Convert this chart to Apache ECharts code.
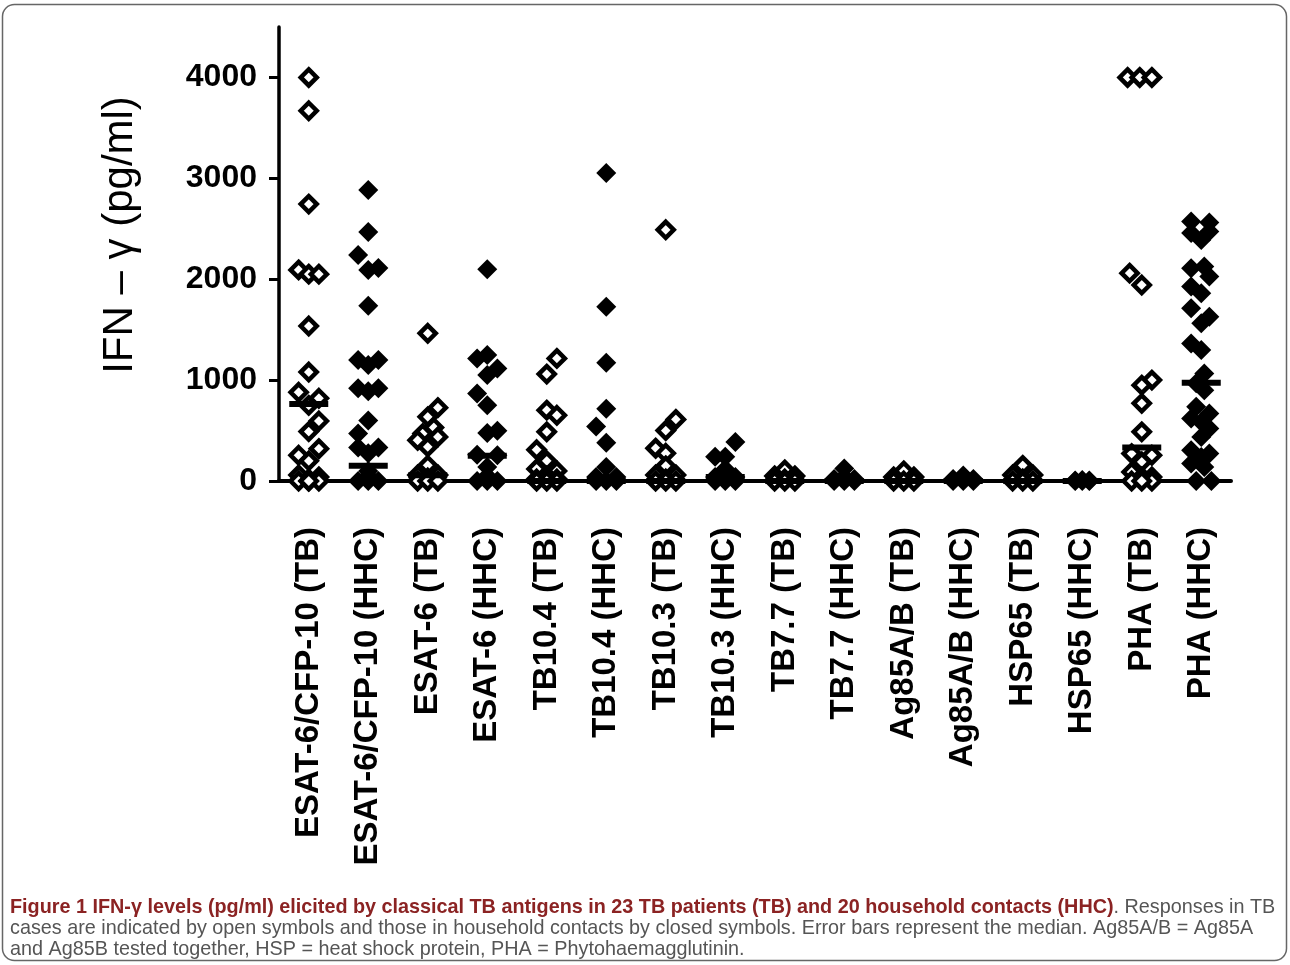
<!DOCTYPE html>
<html>
<head>
<meta charset="utf-8">
<title>IFN-gamma levels</title>
<script src="https://cdn.jsdelivr.net/npm/echarts@6/dist/echarts.min.js"></script>
<style>
  html, body { margin: 0; padding: 0; background: #fff; }
  #chart { width: 1290px; height: 965px; }
</style>
</head>
<body>
<div id="chart"></div>
<script>
//类别
var categories = ['ESAT-6/CFP-10 (TB)', 'ESAT-6/CFP-10 (HHC)', 'ESAT-6 (TB)', 'ESAT-6 (HHC)',
    'TB10.4 (TB)', 'TB10.4 (HHC)', 'TB10.3 (TB)', 'TB10.3 (HHC)', 'TB7.7 (TB)', 'TB7.7 (HHC)',
    'Ag85A/B (TB)', 'Ag85A/B (HHC)', 'HSP65 (TB)', 'HSP65 (HHC)', 'PHA (TB)', 'PHA (HHC)'];
var yTicks = [0, 1000, 2000, 3000, 4000];

//IFN-γ (pg/ml) 每组的数值
var esatCfpTB = [4000, 3670, 2745, 2092, 2050, 2050, 1536, 1080, 880, 820, 750, 595, 490, 320, 255, 200, 60, 40, 20, 0, 0, 0, 0];
var esatCfpHHC = [2885, 2467, 2241, 2110, 2092, 1738, 1200, 1200, 1150, 920, 920, 890, 600, 470, 332, 332, 275, 100, 50, 0, 0, 0];
var esatTB = [1464, 727, 636, 530, 470, 437, 404, 338, 156, 60, 60, 30, 0, 0, 0];
var esatHHC = [2099, 1248, 1215, 1116, 1050, 868, 752, 497, 477, 260, 255, 140, 50, 0, 0, 0];
var tb104TB = [1215, 1060, 702, 652, 487, 310, 200, 120, 100, 50, 20, 20, 0, 0, 0];
var tb104HHC = [3053, 1728, 1172, 715, 540, 380, 140, 40, 40, 0, 0, 0];
var tb103TB = [2490, 610, 500, 325, 275, 150, 60, 60, 20, 0, 0, 0];
var tb103HHC = [387, 240, 240, 120, 40, 40, 0, 0, 0];
var tb77TB = [110, 50, 50, 20, 0, 0, 0];
var tb77HHC = [125, 40, 20, 20, 0, 0, 0];
var ag85TB = [100, 40, 40, 0, 0, 0];
var ag85HHC = [55, 20, 20, 0, 0, 0];
var hspTB = [155, 60, 60, 20, 0, 0, 0];
var hspHHC = [10, 5, 5, 0, 0, 0];
var phaTB = [4000, 4000, 4000, 2060, 1943, 1000, 950, 770, 487, 272, 255, 189, 89, 40, 40, 0, 0, 0];
var phaHHC = [2572, 2562, 2473, 2457, 2390, 2125, 2109, 2026, 1927, 1861, 1712, 1629, 1563, 1364, 1298,
    1066, 970, 900, 735, 669, 620, 586, 520, 437, 305, 272, 238, 173, 139, 0, 0];
//中位数
var medians = [762, 150, 57, 250, 0, 0, 0, 40, 0, 0, 0, 0, 0, 0, 331, 973];

//重叠点的左右错位(单位: 一个点宽)
var jitter = [
    [0, 0, 0, -1, 0, 1, 0, 0, -1, 1, 0, 1, 0, 1, -1, 0, -1, 1, 0, -1, 0, 1, 0],
    [0, 0, -1, 1, 0, 0, -1, 1, 0, -1, 1, 0, 0, -1, -1, 1, 0, 0, 0, -1, 0, 1],
    [0, 1, 0, 0.6, -0.5, 1, -1, 0, 0, -1, 1, 0, -1, 0, 1],
    [0, 0, -1, 1, 0, -1, 0, 1, 0, -1, 1, 0, 0, -1, 1, 0],
    [1, 0, 0, 1, 0, -1, 0, -1, 1, 0, -1, 1, 0, -1, 1],
    [0, 0, 0, 0, -1, 0, 0, -1, 1, 0, -1, 1],
    [0, 1, 0, -1, 0, 0, -1, 1, 0, -1, 0, 1],
    [1, -1, 0, 0, -1, 1, 0, -1, 1],
    [0, -1, 1, 0, -1, 0, 1],
    [0, 0, -1, 1, 0, -1, 1],
    [0, -1, 1, 0, -1, 1],
    [0, -1, 1, 0, -1, 1],
    [0, -1, 1, 0, -1, 0, 1],
    [0, -0.7, 0.7, 0, -0.7, 0.7],
    [-1.4, -0.2, 1, -1.2, 0, 1, 0, 0, 0, -1, 1, 0, -1, 0, 1, -1, 1, 0],
    [-1, 0.8, 0.8, -1, 0, 0.3, -1, 0.8, -1, 0, -1, 0.8, 0, -1, 0, 0.3, -0.5, 0.3, -0.5, 0.8, -1, 0, 0.8, 0, -1, 0.8, 0, -1, 0.3, -0.5, 1]
];

var groups = [esatCfpTB, esatCfpHHC, esatTB, esatHHC, tb104TB, tb104HHC, tb103TB, tb103HHC,
    tb77TB, tb77HHC, ag85TB, ag85HHC, hspTB, hspHHC, phaTB, phaHHC];

var step = 0.17;
var openPts = [], closedPts = [], medPts = [];
for (var i = 0; i < groups.length; i++) {
    var g = groups[i];
    for (var k = 0; k < g.length; k++) {
        var p = [i + (jitter[i][k] || 0) * step, g[k]];
        if (i % 2 == 0) {
            openPts.push(p);
        } else {
            closedPts.push(p);
        }
    }
    medPts.push([i, medians[i]]);
}

var chart = echarts.init(document.getElementById('chart'), null, {renderer: 'canvas'});
var boldFont = '"Liberation Sans", Arial, sans-serif';
var capFont = '19.8px "Liberation Sans", Arial, sans-serif';
var option = {
    backgroundColor: '#fff',
    animation: false,
    grid: {left: 279, right: 59, top: 27, bottom: 484, containLabel: false, outerBoundsMode: 'none'},
    xAxis: [{
        type: 'category',
        data: categories,
        boundaryGap: true,
        axisLine: {lineStyle: {color: '#000', width: 4}},
        axisTick: {show: false},
        axisLabel: {
            interval: 0, rotate: 90, margin: 46, color: '#000',
            fontFamily: boldFont, fontWeight: 'bold', fontSize: 33
        },
        splitLine: {show: false}
    }, {
        type: 'value',
        min: -0.5,
        max: 15.5,
        show: false
    }],
    yAxis: {
        type: 'value',
        min: 0,
        max: 4500,
        axisLine: {show: true, onZero: false, lineStyle: {color: '#000', width: 3.5}},
        axisTick: {show: true, inside: false, length: 10, lineStyle: {color: '#000', width: 3}, customValues: yTicks},
        axisLabel: {
            customValues: yTicks, margin: 22, color: '#000',
            fontFamily: boldFont, fontWeight: 'bold', fontSize: 32,
            formatter: function (v) { return v > 4000 ? '' : String(v); }
        },
        splitLine: {show: false}
    },
    series: [{
        name: 'HHC',
        type: 'scatter',
        xAxisIndex: 1,
        clip: false,
        symbol: 'diamond',
        symbolSize: 20,
        itemStyle: {color: '#000', opacity: 1},
        data: closedPts
    }, {
        name: 'TB',
        type: 'scatter',
        xAxisIndex: 1,
        clip: false,
        symbol: 'diamond',
        symbolSize: 16,
        itemStyle: {color: '#fff', borderColor: '#000', borderWidth: 4.5, opacity: 1},
        data: openPts
    }, {
        name: 'median',
        type: 'scatter',
        xAxisIndex: 1,
        clip: false,
        symbol: 'rect',
        symbolSize: [39, 6],
        itemStyle: {color: '#000', opacity: 1},
        z: 5,
        data: medPts
    }],
    graphic: [{
        type: 'rect',
        shape: {x: 2.5, y: 4.5, width: 1284, height: 956, r: 12},
        style: {fill: 'none', stroke: '#666', lineWidth: 1.5},
        silent: true
    }, {
        type: 'text',
        x: 120,
        y: 235,
        rotation: Math.PI / 2,
        style: {
            text: 'IFN – γ (pg/ml)',
            font: '42px "Liberation Sans", Arial, sans-serif',
            fill: '#000',
            align: 'center',
            verticalAlign: 'middle'
        }
    }, {
        type: 'text',
        x: 10,
        y: 908,
        style: {
            text: '{b|Figure 1 IFN-γ levels (pg/ml) elicited by classical TB antigens in 23 TB patients (TB) and 20 household contacts (HHC)}{r|. Responses in TB}',
            verticalAlign: 'middle',
            rich: {
                b: {font: 'bold ' + capFont, fill: '#8b2323'},
                r: {font: capFont, fill: '#555'}
            }
        }
    }, {
        type: 'text',
        x: 10,
        y: 929,
        style: {
            text: 'cases are indicated by open symbols and those in household contacts by closed symbols. Error bars represent the median. Ag85A/B = Ag85A',
            verticalAlign: 'middle',
            font: capFont,
            fill: '#555'
        }
    }, {
        type: 'text',
        x: 10,
        y: 950,
        style: {
            text: 'and Ag85B tested together, HSP = heat shock protein, PHA = Phytohaemagglutinin.',
            verticalAlign: 'middle',
            font: capFont,
            fill: '#555'
        }
    }]
};
chart.setOption(option);
</script>
</body>
</html>
